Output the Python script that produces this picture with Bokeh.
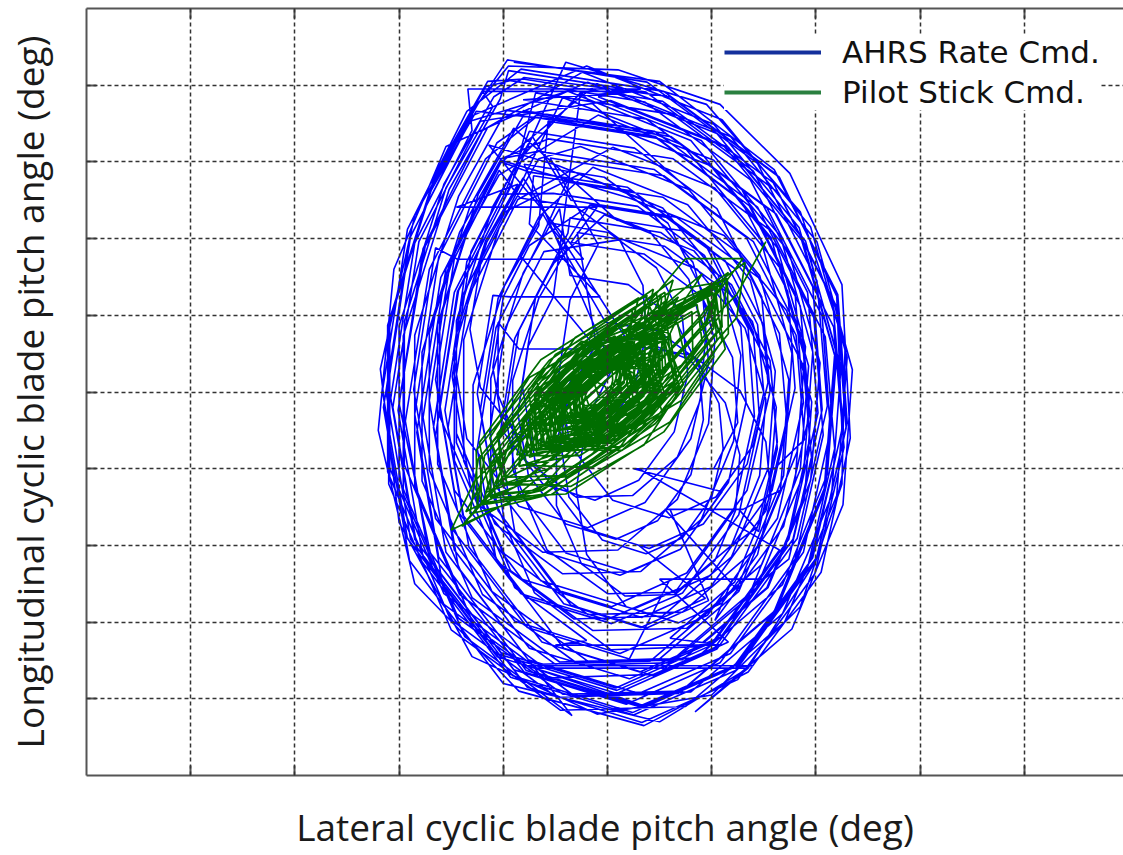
from bokeh.plotting import figure
from bokeh.models import (FixedTicker, LinearAxis, Legend, LegendItem, Range1d,
                          ColumnDataSource)
from bokeh.embed import file_html
from bokeh.resources import INLINE

# Grid positions (deg); tick labels are not shown on this chart
grid_ticks = [-4, -3, -2, -1, 0, 1, 2, 3, 4]

# AHRS rate command trajectory: (lateral, longitudinal) cyclic pitch, deg
ahrs_path = [
    (-0.9, 4.3), (0.5, 4.05), (1.6, 2.9), (2.2, 1.3), (2.3, -0.4), (2.0, -2.2), (1.35, -3.6), (0.5, -4.3), (-1.0, -3.8), (-1.9, -2.2), (-2.15, -0.2), (-1.9, 2.0), (-1.3, 3.6),
    (-0.2, 4.25), (1.1, 3.55), (1.95, 2.15), (2.3, 0.45), (2.2, -1.35), (1.7, -3.0), (0.75, -4.1), (-0.45, -4.15), (-1.5, -3.1), (-2.1, -1.2), (-2.1, 0.9), (-1.65, 2.85), (-1.15, 4.05),
    (-0.81, 4.08), (0.53, 3.79), (1.59, 2.73), (2.16, 1.20), (2.26, -0.43), (1.97, -2.16), (1.20, -3.60), (0.24, -4.18), (-0.91, -3.70), (-1.77, -2.16), (-2.01, -0.24), (-1.77, 1.87), (-1.20, 3.41),
    (-0.24, 4.17), (1.02, 3.49), (1.84, 2.14), (2.18, 0.49), (2.08, -1.26), (1.60, -2.86), (0.68, -3.93), (-0.49, -3.98), (-1.51, -2.96), (-2.09, -1.11), (-2.09, 0.92), (-1.65, 2.81), (-1.17, 3.98),
    (-0.93, 4.06), (0.36, 3.78), (1.37, 2.77), (1.92, 1.30), (2.02, -0.27), (1.74, -1.92), (1.00, -3.30), (0.08, -3.86), (-1.02, -3.40), (-1.85, -1.92), (-2.08, -0.08), (-1.85, 1.94), (-1.30, 3.41), (-1.34, 3.95), (0.32, 3.95),
    (-0.09, 3.85), (1.12, 3.20), (1.91, 1.90), (2.24, 0.32), (2.15, -1.36), (1.68, -2.89), (0.80, -3.91), (-0.32, -3.96), (-1.30, -2.98), (-1.85, -1.22), (-1.85, 0.74), (-1.43, 2.55), (-0.97, 3.67),
    (-0.67, 3.63), (0.56, 3.37), (1.53, 2.40), (2.06, 0.99), (2.14, -0.50), (1.88, -2.09), (1.18, -3.41), (0.30, -3.93), (-0.76, -3.49), (-1.55, -2.09), (-1.77, -0.33), (-1.55, 1.61), (-1.02, 3.02),
    (0.21, 2.53), (1.12, 2.04), (1.72, 1.06), (1.96, -0.13), (1.89, -1.40), (1.54, -2.55), (0.88, -3.32), (0.03, -3.36), (-0.70, -2.62), (-1.12, -1.29), (-1.12, 0.18), (-0.81, 1.55), (-0.46, 2.39),
    (-0.36, 1.52), (0.20, 1.40), (0.64, 0.96), (0.88, 0.32), (0.92, -0.36), (0.80, -1.08), (0.48, -1.68), (0.08, -1.92), (-0.40, -1.72), (-0.76, -1.08), (-0.86, -0.28), (-0.76, 0.60), (-0.52, 1.24),
    (-0.26, 3.90), (0.90, 3.28), (1.66, 2.03), (1.97, 0.52), (1.88, -1.08), (1.43, -2.55), (0.59, -3.53), (-0.48, -3.57), (-1.42, -2.64), (-1.95, -0.95), (-1.95, 0.92), (-1.55, 2.66), (-1.10, 3.72), (-1.20, 3.92), (0.30, 3.92),
    (-0.81, 3.81), (0.37, 3.56), (1.29, 2.64), (1.80, 1.29), (1.88, -0.14), (1.63, -1.65), (0.96, -2.91), (0.12, -3.41), (-0.89, -2.99), (-1.65, -1.65), (-1.86, 0.03), (-1.65, 1.88), (-1.44, 1.73), (-0.23, 1.73), (-1.14, 3.22),
    (-0.47, 2.95), (0.31, 2.53), (0.82, 1.69), (1.03, 0.67), (0.97, -0.41), (0.67, -1.40), (0.10, -2.06), (-0.62, -2.09), (-1.25, -1.46), (-1.61, -0.32), (-1.61, 0.94), (-1.34, 2.11), (-1.04, 2.83),
    (-0.09, 3.61), (1.02, 3.02), (1.74, 1.83), (2.04, 0.38), (1.95, -1.15), (1.53, -2.55), (0.72, -3.49), (-0.30, -3.53), (-1.20, -2.64), (-1.71, -1.02), (-1.71, 0.77), (-1.32, 2.42), (-0.90, 3.44),
    (0.09, 2.24), (0.73, 2.10), (1.22, 1.61), (1.49, 0.89), (1.54, 0.12), (1.40, -0.69), (1.04, -1.37), (0.59, -1.64), (0.05, -1.41), (-0.36, -0.69), (-0.47, 0.21), (-0.36, 1.20), (-0.09, 1.92),
    (-0.55, 3.05), (0.54, 2.82), (1.40, 1.96), (1.87, 0.71), (1.94, -0.61), (1.71, -2.02), (1.09, -3.19), (0.31, -3.65), (-0.63, -3.26), (-1.33, -2.02), (-1.53, -0.46), (-1.33, 1.26), (-0.86, 2.51),
    (0.05, 3.19), (1.03, 2.66), (1.66, 1.61), (1.93, 0.34), (1.85, -1.01), (1.48, -2.25), (0.76, -3.08), (-0.14, -3.11), (-0.93, -2.33), (-1.38, -0.90), (-1.38, 0.68), (-1.04, 2.14), (-0.66, 3.04),
    (-0.26, 3.20), (0.78, 2.64), (1.46, 1.52), (1.74, 0.16), (1.66, -1.28), (1.30, -1.53), (0.55, -1.53), (1.26, -2.60), (0.50, -3.48), (-0.46, -3.52), (-1.30, -2.68), (-1.78, -1.16), (-1.78, 0.52), (-1.42, 2.08), (-1.02, 3.04),
    (-0.67, 3.14), (0.45, 2.90), (1.33, 2.02), (1.81, 0.74), (1.89, -0.62), (1.60, -1.0), (0.30, -1.0), (1.65, -2.06), (1.01, -3.26), (0.21, -3.74), (-0.75, -3.34), (-1.47, -2.06), (-1.67, -0.46), (-1.47, 1.30), (-0.99, 2.58),
    (-0.75, 3.40), (0.26, 3.18), (1.05, 2.39), (1.48, 1.24), (1.56, 0.01), (1.34, -1.28), (0.76, -2.36), (0.04, -2.80), (-0.82, -2.44), (-1.47, -1.28), (-1.65, 0.16), (-1.47, 1.74), (-1.04, 2.89),
    (-0.84, 2.53), (-0.31, 2.42), (0.11, 2.00), (0.34, 1.39), (0.37, 0.75), (0.26, 0.06), (-0.04, -0.51), (-0.42, -0.73), (-0.88, -0.54), (-1.22, 0.06), (-1.32, 0.82), (-1.22, 1.66), (-0.99, 2.27),
    (-0.43, 3.84), (0.72, 3.22), (1.47, 1.99), (1.77, 0.50), (1.69, -1.09), (1.25, -2.54), (0.41, -3.51), (-0.65, -3.55), (-1.57, -2.63), (-2.10, -0.96), (-2.10, 0.89), (-1.70, 2.61), (-1.26, 3.66),
    (0.00, 3.48), (0.99, 2.95), (1.63, 1.88), (1.90, 0.59), (1.82, -0.78), (1.44, -2.03), (0.72, -2.87), (-0.19, -2.90), (-0.99, -2.11), (-1.45, -0.66), (-1.45, 0.93), (-1.10, 2.42), (-0.72, 3.33),
    (-0.35, 2.50), (0.66, 2.28), (1.45, 1.49), (1.88, 0.34), (1.96, -0.89), (1.74, -2.18), (1.50, -2.44), (0.50, -2.44), (1.16, -3.26), (0.44, -3.70), (-0.42, -3.34), (-1.07, -2.18), (-1.25, -0.74), (-1.07, 0.84), (-0.64, 1.99),
    (-0.39, 2.74), (0.53, 2.54), (1.26, 1.81), (1.65, 0.76), (1.72, -0.36), (1.52, -1.55), (0.99, -2.54), (0.33, -2.94), (-0.46, -2.61), (-1.05, -1.55), (-1.22, -0.23), (-1.05, 1.22), (-0.66, 2.28),
    (-0.14, 2.93), (0.77, 2.44), (1.37, 1.46), (1.61, 0.27), (1.54, -1.00), (1.19, -2.15), (0.53, -2.92), (-0.32, -2.96), (-1.05, -2.22), (-1.47, -0.89), (-1.47, 0.58), (-1.16, 1.95), (-0.81, 2.79),
    (0.22, 0.61), (0.81, 0.48), (1.27, 0.02), (1.52, -0.65), (1.57, -1.37), (1.44, -2.12), (1.10, -2.75), (0.68, -3.01), (0.18, -2.80), (-0.20, -2.12), (-0.30, -1.28), (-0.20, -0.36), (0.05, 0.31),
    (-0.80, 2.97), (-0.03, 2.80), (0.58, 2.20), (0.91, 1.32), (0.97, 0.38), (0.80, -0.61), (0.36, -1.44), (-0.19, -1.77), (-0.85, -1.49), (-1.35, -0.61), (-1.48, 0.49), (-1.35, 1.70), (-1.02, 2.58),
    (-0.52, 2.59), (0.29, 2.42), (0.93, 1.78), (1.28, 0.85), (1.33, -0.13), (1.16, -1.18), (0.70, -2.05), (0.12, -2.39), (-0.58, -2.10), (-1.10, -1.18), (-1.25, -0.02), (-1.10, 1.26), (-0.93, 1.24), (-0.07, 1.24), (-0.75, 2.19),
    (-0.71, 2.82), (0.24, 2.62), (0.99, 1.87), (1.40, 0.78), (1.46, -0.37), (1.26, -1.60), (0.72, -2.62), (0.04, -3.02), (-0.78, -2.68), (-1.39, -1.60), (-1.56, -0.24), (-1.39, 1.26), (-0.98, 2.35),
    (-0.27, 2.84), (0.53, 2.40), (1.06, 1.53), (1.28, 0.48), (1.21, -0.64), (0.90, -1.66), (0.32, -2.34), (-0.43, -2.37), (-1.08, -1.72), (-1.45, -0.54), (-1.45, 0.76), (-1.17, 1.97), (-0.86, 2.71), (-1.45, 2.41), (-0.10, 2.41),
    (-0.35, 1.95), (0.35, 1.80), (0.90, 1.25), (1.20, 0.45), (1.25, -0.40), (1.02, -1.0), (0.25, -1.0), (1.10, -1.30), (0.70, -2.05), (0.20, -2.35), (-0.40, -2.10), (-0.85, -1.30), (-0.98, -0.30), (-0.85, 0.80), (-0.55, 1.60),
    (-0.17, 2.44), (0.56, 2.28), (1.13, 1.71), (1.44, 0.88), (1.50, -0.01), (1.34, -0.94), (0.92, -1.72), (0.40, -2.04), (-0.22, -1.78), (-0.69, -0.94), (-0.82, 0.10), (-0.69, 1.24), (-0.38, 2.07),
    (-0.36, 2.27), (0.51, 2.08), (1.19, 1.40), (1.56, 0.41), (1.63, -0.65), (1.44, -1.76), (1.20, -2.0), (0.30, -2.0), (0.94, -2.69), (0.32, -3.07), (-0.42, -2.76), (-0.98, -1.76), (-1.13, -0.52), (-0.98, 0.84), (-0.61, 1.83),
    (0.14, 1.99), (0.86, 1.60), (1.32, 0.83), (1.52, -0.10), (1.46, -1.09), (1.19, -2.00), (0.66, -2.61), (0.00, -2.63), (-0.58, -2.06), (-0.91, -1.01), (-0.91, 0.15), (-0.66, 1.22), (-0.38, 1.88),
    (-0.58, 2.21), (0.01, 2.08), (0.47, 1.62), (0.72, 0.95), (0.77, 0.23), (0.64, -0.52), (0.30, -1.15), (-0.12, -1.41), (-0.62, -1.20), (-1.00, -0.52), (-1.10, 0.32), (-1.00, 1.24), (-0.75, 1.91),
    (-0.19, 2.41), (0.40, 2.10), (0.78, 1.47), (0.94, 0.70), (0.89, -0.11), (0.67, -0.85), (0.24, -1.35), (-0.30, -1.37), (-0.78, -0.90), (-1.05, -0.04), (-1.05, 0.91), (-0.85, 0.56), (-0.10, 0.56), (-0.84, 1.78), (-0.62, 2.32),
    (-0.02, 0.91), (0.48, 0.80), (0.86, 0.42), (1.07, -0.15), (1.11, -0.74), (1.00, -1.37), (0.72, -1.90), (0.37, -2.11), (-0.05, -1.93), (-0.37, -1.37), (-0.45, -0.67), (-0.37, 0.10), (-0.16, 0.66),
    (0.27, 0.70), (0.79, 0.42), (1.13, -0.14), (1.27, -0.82), (1.23, -1.54), (1.03, -2.20), (0.65, -2.64), (0.17, -2.66), (-0.25, -2.24), (-0.49, -1.48), (-0.49, -0.64), (-0.31, 0.14), (-0.11, 0.62),
    (-0.29, 2.08), (0.55, 1.90), (1.21, 1.24), (1.57, 0.28), (1.63, -0.74), (1.45, -1.82), (1.26, -1.53), (0.60, -1.53), (0.97, -2.72), (0.37, -3.08), (-0.35, -2.78), (-0.89, -1.82), (-1.04, -0.62), (-0.89, 0.70), (-0.53, 1.66),
    (-0.03, 2.31), (0.83, 1.84), (1.39, 0.92), (1.62, -0.20), (1.55, -1.39), (1.22, -2.48), (0.60, -3.21), (1.10, -3.30), (-0.50, -3.30), (-0.20, -3.24), (-0.89, -2.55), (-1.29, -1.29), (-1.29, 0.09), (-0.99, 1.38), (-0.66, 2.17),
    (-0.57, 3.53), (0.47, 3.31), (1.28, 2.50), (1.73, 1.31), (1.80, 0.05), (1.58, -1.28), (0.99, -2.39), (0.25, -2.83), (-0.64, -2.46), (-1.31, -1.28), (-1.49, 0.20), (-1.31, 1.83), (-0.86, 3.01),
    (-0.26, 3.90), (0.78, 2.64), (1.46, 1.52), (1.74, 0.16), (1.66, -1.28), (1.26, -2.60), (0.50, -3.48), (-0.46, -3.52), (-1.30, -2.68), (-1.78, -1.16), (-1.78, 0.52), (-1.42, 2.08), (-1.02, 3.04),
    (-0.57, 3.30), (0.63, 3.04), (1.58, 2.09), (2.09, 0.72), (2.18, -0.74), (1.92, -2.29), (1.23, -3.58), (1.40, -3.57), (-0.77, -3.57), (0.37, -4.10), (-0.66, -3.67), (-1.43, -2.29), (-1.65, -0.57), (-1.43, 1.32), (-0.92, 2.70),
    (-0.69, 3.90), (0.62, 3.62), (1.64, 2.60), (2.20, 1.11), (2.29, -0.47), (2.01, -2.15), (1.27, -3.54), (0.34, -4.10), (-0.78, -3.63), (-1.62, -2.15), (-1.85, -0.29), (-1.62, 1.76), (-1.06, 3.25),
    (-0.68, 3.61), (0.61, 3.33), (1.62, 2.32), (2.17, 0.85), (2.27, -0.72), (1.99, -2.37), (1.25, -3.75), (0.33, -4.31), (-0.77, -3.85), (-1.60, -2.37), (-1.83, -0.53), (-1.60, 1.49), (-1.05, 2.96),
    (-0.10, 4.02), (1.18, 3.33), (2.01, 1.96), (2.35, 0.29), (2.26, -1.47), (1.77, -3.09), (0.84, -4.17), (1.35, -3.60), (-0.70, -3.60), (-0.34, -4.22), (-1.37, -3.19), (-1.96, -1.33), (-1.96, 0.73), (-1.52, 2.64), (-1.03, 3.82),
    (-0.95, 4.19), (0.37, 3.91), (1.40, 2.88), (1.97, 1.37), (2.06, -0.23), (1.78, -1.92), (1.03, -3.33), (0.09, -3.89), (-1.04, -3.42), (-1.89, -1.92), (-2.12, -0.04), (-1.89, 2.03), (-1.32, 3.53),
    (-0.38, 3.92), (0.80, 3.28), (1.57, 2.01), (1.89, 0.46), (1.80, -1.18), (1.35, -2.68), (0.48, -3.68), (-0.61, -3.73), (-1.57, -2.77), (-2.11, -1.04), (-2.11, 0.87), (-1.70, 2.64), (-1.25, 3.74),
    (-0.96, 4.33), (0.38, 4.04), (1.44, 2.98), (2.01, 1.45), (2.11, -0.18), (1.82, -1.91), (1.05, -3.35), (0.09, -3.93), (-1.06, -3.45), (-1.92, -1.91), (-2.16, 0.01), (-1.92, 2.12), (-1.35, 3.66),
    (-0.83, 4.21), (0.54, 3.92), (1.62, 2.84), (2.21, 1.27), (2.30, -0.39), (2.01, -2.16), (1.23, -3.63), (0.25, -4.21), (-0.93, -3.72), (-1.81, -2.16), (-2.06, -0.20), (-1.81, 1.96), (-1.22, 3.53),
    (0.03, 3.80), (1.16, 3.19), (1.90, 1.97), (2.20, 0.49), (2.11, -1.07), (1.68, -2.51), (0.85, -3.47), (-0.19, -3.51), (-1.11, -2.60), (-1.63, -0.94), (-1.63, 0.88), (-1.24, 2.58), (-0.80, 3.62),
    (-0.81, 3.67), (0.45, 3.40), (1.44, 2.41), (1.98, 0.97), (2.07, -0.56), (1.80, -2.18), (1.08, -3.53), (0.18, -4.07), (-0.90, -3.62), (-1.71, -2.18), (-1.94, -0.38), (-1.71, 1.60), (-1.17, 3.04),
    (-0.69, 3.58), (0.46, 3.33), (1.36, 2.43), (1.85, 1.12), (1.94, -0.28), (1.69, -1.75), (1.03, -2.98), (1.2, -2.44), (0.6, -2.44), (0.21, -3.48), (-0.77, -3.07), (-1.51, -1.75), (-1.71, -0.11), (-1.51, 1.69), (-1.02, 3.00),
    (-0.76, 2.87), (0.19, 2.67), (0.94, 1.92), (1.35, 0.83), (1.41, -0.32), (1.21, -1.55), (0.67, -2.57), (-0.01, -2.97), (-0.83, -2.63), (-1.44, -1.55), (-1.61, -0.19), (-1.44, 1.31), (-1.03, 2.40),
    (-0.4, 4.3), (0.95, 3.75), (1.85, 2.35), (2.28, 0.6), (2.25, -1.2), (1.85, -2.8), (1.0, -3.95), (-0.1, -4.2), (-1.3, -3.45), (-2.0, -1.7), (-2.18, 0.3), (-1.85, 2.3), (-1.25, 3.75),
    (-0.95, 4.25), (0.1, 4.2), (1.08, 3.75), (1.75, 2.85), (2.25, 1.4), (2.33, -0.6), (2.05, -2.35), (1.35, -3.65), (0.35, -4.35), (-0.85, -3.9), (-1.85, -2.5), (-2.2, -0.5), (-2.05, 1.6), (-1.55, 3.2),
    (-0.19, 4.04), (1.05, 3.37), (1.85, 2.04), (2.19, 0.43), (2.09, -1.28), (1.62, -2.85), (0.71, -3.90), (-0.43, -3.94), (-1.43, -2.95), (-2.0, -1.14), (-2.0, 0.86), (-1.57, 2.71), (-1.09, 3.85),
    (-0.8, 4.1), (0.6, 3.85), (1.65, 2.8), (2.2, 1.25), (2.25, -0.5), (1.95, -2.2), (1.25, -3.55), (0.3, -4.1), (-0.8, -3.65), (-1.7, -2.1), (-2.0, -0.15), (-1.75, 1.9), (-1.15, 3.45),
]

# Pilot stick command trajectory: (lateral, longitudinal) cyclic pitch, deg
stick_path = [
    (1.52, 1.96), (1.24, 1.27), (0.21, -0.14), (-0.95, -1.44), (-1.50, -1.80), (-1.28, -1.17), (-0.25, 0.24), (0.91, 1.54),
    (0.40, 0.52), (0.46, -0.03), (-0.05, -0.66), (-0.60, -0.72), (-0.66, -0.17), (-0.15, 0.46),
    (1.02, 1.28), (1.13, 0.56), (0.54, -0.52), (-0.40, -1.33), (-1.12, -1.38), (-1.23, -0.66), (-0.64, 0.42), (0.30, 1.23),
    (0.08, 0.17), (0.14, -0.06), (-0.04, -0.28), (-0.28, -0.27), (-0.34, -0.04), (-0.16, 0.18),
    (0.34, 0.45), (0.49, -0.13), (0.05, -0.67), (-0.54, -0.65), (-0.69, -0.07), (-0.25, 0.47),
    (1.15, 1.48), (1.16, 0.76), (0.46, -0.41), (-0.54, -1.34), (-1.25, -1.48), (-1.26, -0.76), (-0.56, 0.41), (0.44, 1.34),
    (0.29, 0.45), (0.22, 0.05), (-0.22, -0.49), (-0.59, -0.65), (-0.52, -0.25), (-0.08, 0.29),
    (0.87, 1.06), (1.02, 0.46), (0.60, -0.39), (-0.14, -0.98), (-0.77, -0.96), (-0.92, -0.36), (-0.50, 0.49), (0.24, 1.08),
    (0.18, 0.27), (0.24, 0.04), (0.06, -0.18), (-0.18, -0.17), (-0.24, 0.06), (-0.06, 0.28),
    (1.32, 1.69), (1.24, 0.97), (0.43, -0.30), (-0.63, -1.36), (-1.32, -1.59), (-1.24, -0.87), (-0.43, 0.40), (0.63, 1.46),
    (0.40, 0.44), (0.52, -0.02), (0.17, -0.46), (-0.30, -0.44), (-0.42, 0.02), (-0.07, 0.46),
    (0.60, 0.73), (0.67, 0.13), (0.11, -0.57), (-0.50, -0.63), (-0.57, -0.03), (-0.01, 0.67),
    (0.56, 0.69), (0.73, 0.10), (0.35, -0.69), (-0.35, -1.23), (-0.96, -1.19), (-1.13, -0.60), (-0.75, 0.19), (-0.05, 0.73),
    (1.15, 1.48), (1.08, 0.83), (0.34, -0.32), (-0.62, -1.28), (-1.25, -1.48), (-1.18, -0.83), (-0.44, 0.32), (0.52, 1.28),
    (0.20, 0.30), (0.33, -0.23), (-0.06, -0.71), (-0.60, -0.70), (-0.73, -0.17), (-0.34, 0.31),
    (-0.02, 0.07), (0.04, -0.16), (-0.14, -0.38), (-0.38, -0.37), (-0.44, -0.14), (-0.26, 0.08),
    (0.48, 0.71), (0.39, 0.23), (-0.13, -0.42), (-0.58, -0.61), (-0.49, -0.13), (0.03, 0.52),
    (1.01, 1.30), (1.05, 0.67), (0.47, -0.33), (-0.38, -1.10), (-1.01, -1.20), (-1.05, -0.57), (-0.47, 0.43), (0.38, 1.20),
    (0.54, 0.65), (0.69, 0.07), (0.25, -0.47), (-0.34, -0.45), (-0.49, 0.13), (-0.05, 0.67),
    (0.47, 0.77), (0.50, 0.15), (-0.07, -0.55), (-0.67, -0.67), (-0.70, -0.05), (-0.13, 0.65),
    (0.96, 1.24), (1.10, 0.67), (0.71, -0.11), (0.02, -0.66), (-0.56, -0.64), (-0.70, -0.07), (-0.31, 0.71), (0.38, 1.26),
    (0.20, 0.36), (0.25, -0.14), (-0.20, -0.70), (-0.70, -0.76), (-0.75, -0.26), (-0.30, 0.30),
    (0.28, 0.37), (0.34, 0.14), (0.16, -0.08), (-0.08, -0.07), (-0.14, 0.16), (0.04, 0.38),
    (0.34, 0.50), (0.36, 0.03), (-0.08, -0.51), (-0.54, -0.60), (-0.56, -0.13), (-0.12, 0.41),
    (0.21, 0.28), (0.30, -0.07), (0.04, -0.39), (-0.31, -0.38), (-0.40, -0.03), (-0.14, 0.29),
    (0.81, 1.05), (0.82, 0.44), (0.23, -0.55), (-0.61, -1.33), (-1.21, -1.45), (-1.22, -0.84), (-0.63, 0.15), (0.21, 0.93),
    (0.60, 0.76), (0.65, 0.26), (0.20, -0.30), (-0.30, -0.36), (-0.35, 0.14), (0.10, 0.70),
    (0.40, 0.25), (0.53, -0.28), (0.14, -0.76), (-0.40, -0.75), (-0.53, -0.22), (-0.14, 0.26),
    (0.15, 0.30), (0.08, -0.06), (-0.31, -0.55), (-0.65, -0.70), (-0.58, -0.34), (-0.19, 0.15),
    (0.67, 0.91), (0.76, 0.35), (0.32, -0.48), (-0.40, -1.09), (-0.97, -1.11), (-1.06, -0.55), (-0.62, 0.28), (0.10, 0.89),
    (0.33, 0.51), (0.36, -0.01), (-0.13, -0.61), (-0.63, -0.71), (-0.66, -0.19), (-0.17, 0.41),
    (0.25, 0.60), (0.38, 0.07), (-0.01, -0.41), (-0.55, -0.40), (-0.68, 0.13), (-0.29, 0.61),
    (0.48, 0.71), (0.41, 0.27), (-0.08, -0.33), (-0.48, -0.51), (-0.41, -0.07), (0.08, 0.53),
    (0.30, 0.38), (0.34, 0.00), (-0.01, -0.44), (-0.40, -0.48), (-0.44, -0.10), (-0.09, 0.34),
    (0.35, 0.54), (0.37, 0.16), (0.02, -0.27), (-0.35, -0.34), (-0.37, 0.04), (-0.02, 0.47),
    (1.08, 1.39), (1.10, 0.85), (0.59, -0.02), (-0.15, -0.70), (-0.68, -0.79), (-0.70, -0.25), (-0.19, 0.62), (0.55, 1.30),
    (0.60, 0.47), (0.66, -0.08), (0.15, -0.71), (-0.40, -0.77), (-0.46, -0.22), (0.05, 0.41),
    (0.46, 0.33), (0.56, -0.07), (0.26, -0.45), (-0.16, -0.43), (-0.26, -0.03), (0.04, 0.35),
    (0.15, 0.44), (0.10, 0.12), (-0.26, -0.31), (-0.55, -0.44), (-0.50, -0.12), (-0.14, 0.31),
    (1.16, 1.56), (0.93, 1.00), (0.10, -0.16), (-0.86, -1.22), (-1.36, -1.56), (-1.13, -1.00), (-0.30, 0.16), (0.66, 1.22),
    (0.30, 0.72), (0.36, 0.17), (-0.15, -0.46), (-0.70, -0.52), (-0.76, 0.03), (-0.25, 0.66),
    (0.33, 0.51), (0.35, -0.05), (-0.18, -0.70), (-0.73, -0.81), (-0.75, -0.25), (-0.22, 0.40),
    (0.86, 1.14), (0.91, 0.64), (0.49, -0.12), (-0.16, -0.69), (-0.66, -0.74), (-0.71, -0.24), (-0.29, 0.52), (0.36, 1.09),
    (0.36, 0.39), (0.37, 0.06), (0.06, -0.32), (-0.26, -0.39), (-0.27, -0.06), (0.04, 0.32),
    (0.34, 0.30), (0.27, -0.10), (-0.17, -0.64), (-0.54, -0.80), (-0.47, -0.40), (-0.03, 0.14),
    (0.53, 0.73), (0.62, 0.28), (0.29, -0.37), (-0.27, -0.83), (-0.73, -0.83), (-0.82, -0.38), (-0.49, 0.27), (0.07, 0.73),
    (0.25, 0.31), (0.28, 0.04), (0.03, -0.28), (-0.25, -0.31), (-0.28, -0.04), (-0.03, 0.28),
    (1.05, 1.37), (1.02, 0.83), (0.45, -0.08), (-0.32, -0.83), (-0.85, -0.97), (-0.82, -0.43), (-0.25, 0.48), (0.52, 1.23),
    (0.45, 0.45), (0.38, 0.09), (-0.01, -0.40), (-0.35, -0.55), (-0.28, -0.19), (0.11, 0.30),
    (0.39, 0.51), (0.50, 0.01), (0.13, -0.70), (-0.49, -1.21), (-0.99, -1.21), (-1.10, -0.71), (-0.73, 0.00), (-0.11, 0.51),
    (0.15, 0.54), (0.17, 0.16), (-0.18, -0.27), (-0.55, -0.34), (-0.57, 0.04), (-0.22, 0.47),
    (0.25, 0.25), (0.30, -0.19), (-0.11, -0.70), (-0.55, -0.75), (-0.60, -0.31), (-0.19, 0.20),
    (0.50, 0.50), (0.51, 0.07), (0.12, -0.41), (-0.30, -0.50), (-0.31, -0.07), (0.08, 0.41),
    (0.18, 0.23), (0.22, -0.18), (-0.14, -0.80), (-0.68, -1.28), (-1.08, -1.33), (-1.12, -0.93), (-0.76, -0.30), (-0.23, 0.18),
    (0.27, 0.62), (0.18, 0.10), (-0.39, -0.61), (-0.87, -0.82), (-0.78, -0.30), (-0.21, 0.41),
    (0.94, 1.31), (1.02, 0.84), (0.64, 0.14), (0.04, -0.38), (-0.44, -0.41), (-0.52, 0.07), (-0.14, 0.77), (0.47, 1.28),
    (0.54, 0.70), (0.47, 0.30), (0.03, -0.24), (-0.34, -0.40), (-0.27, 0.00), (0.17, 0.54),
    (0.40, 0.35), (0.41, -0.08), (0.02, -0.56), (-0.40, -0.65), (-0.41, -0.22), (-0.02, 0.26),
    (0.60, 0.50), (0.65, 0.06), (0.24, -0.45), (-0.20, -0.50), (-0.25, -0.06), (0.16, 0.45),
    (1.05, 1.37), (0.94, 0.90), (0.33, 0.01), (-0.41, -0.77), (-0.85, -0.97), (-0.74, -0.50), (-0.13, 0.39), (0.61, 1.17),
    (0.15, 0.55), (0.16, 0.12), (-0.23, -0.36), (-0.65, -0.45), (-0.66, -0.02), (-0.27, 0.46),
    (1.03, 1.38), (1.07, 0.98), (0.71, 0.35), (0.18, -0.13), (-0.23, -0.18), (-0.27, 0.23), (0.09, 0.85), (0.63, 1.33),
    (1.07, 1.43), (0.95, 0.88), (0.27, -0.12), (-0.57, -1.00), (-1.07, -1.23), (-0.95, -0.68), (-0.27, 0.32), (0.57, 1.20),
    (0.16, 0.34), (0.11, 0.06), (-0.20, -0.32), (-0.46, -0.44), (-0.41, -0.16), (-0.10, 0.22),
    (0.52, 0.66), (0.53, 0.17), (0.05, -0.63), (-0.63, -1.27), (-1.12, -1.36), (-1.13, -0.87), (-0.65, -0.07), (0.03, 0.57),
    (0.12, 0.28), (0.13, 0.04), (-0.09, -0.23), (-0.32, -0.28), (-0.33, -0.04), (-0.11, 0.23),
    (0.46, 0.48), (0.38, 0.02), (-0.13, -0.60), (-0.56, -0.78), (-0.48, -0.32), (0.03, 0.30),
    (0.39, 0.35), (0.41, -0.12), (-0.03, -0.66), (-0.49, -0.75), (-0.51, -0.28), (-0.07, 0.26),
    (0.24, 0.65), (0.17, 0.25), (-0.27, -0.29), (-0.64, -0.45), (-0.57, -0.05), (-0.13, 0.49),
    (0.53, 0.81), (0.56, 0.29), (0.07, -0.31), (-0.43, -0.41), (-0.46, 0.11), (0.03, 0.71),
    (0.55, 0.75), (0.48, 0.39), (0.09, -0.10), (-0.25, -0.25), (-0.18, 0.11), (0.21, 0.60),
    (0.42, 0.65), (0.48, 0.27), (0.16, -0.30), (-0.33, -0.73), (-0.72, -0.75), (-0.78, -0.37), (-0.46, 0.20), (0.03, 0.63),
    (0.05, 0.15), (-0.02, -0.21), (-0.41, -0.70), (-0.75, -0.85), (-0.68, -0.49), (-0.29, 0.00),
    (0.11, 0.33), (0.13, 0.05), (-0.14, -0.28), (-0.41, -0.33), (-0.43, -0.05), (-0.16, 0.28),
    (0.47, 0.71), (0.37, 0.31), (-0.16, -0.46), (-0.79, -1.13), (-1.17, -1.31), (-1.07, -0.91), (-0.55, -0.14), (0.09, 0.53),
    (0.55, 0.67), (0.60, 0.34), (0.32, -0.17), (-0.11, -0.55), (-0.45, -0.57), (-0.50, -0.24), (-0.22, 0.27), (0.21, 0.65),
    (0.68, 0.99), (0.54, 0.59), (-0.04, -0.23), (-0.72, -0.96), (-1.08, -1.19), (-0.94, -0.79), (-0.36, 0.03), (0.32, 0.76),
    (1.06, 1.39), (0.99, 0.99), (0.52, 0.27), (-0.08, -0.34), (-0.46, -0.49), (-0.39, -0.09), (0.08, 0.63), (0.68, 1.24),
    (0.48, 0.73), (0.46, 0.37), (0.08, -0.24), (-0.43, -0.74), (-0.78, -0.83), (-0.76, -0.47), (-0.38, 0.14), (0.13, 0.64),
    (0.08, 0.18), (0.01, -0.14), (-0.39, -0.73), (-0.89, -1.24), (-1.18, -1.38), (-1.11, -1.07), (-0.71, -0.47), (-0.21, 0.04),
    (-1.40, -1.75), (0.75, 1.74), (1.30, 1.74), (0.90, 1.00), (-0.60, -1.20), (-1.40, -1.75),
]

ahrs_lat = [pt[0] for pt in ahrs_path]
ahrs_lon = [pt[1] for pt in ahrs_path]
stick_lat = [pt[0] for pt in stick_path]
stick_lon = [pt[1] for pt in stick_path]

TITLE_FONT = "Open Sans"
TEXT_COLOR = "#1a1a1a"
AXIS_COLOR = "#555555"

p = figure(
    width=1123, height=855,
    x_range=Range1d(-5, 4.952), y_range=Range1d(-5, 5),
    output_backend="svg", toolbar_location=None,
    min_border_left=86, min_border_right=0, min_border_top=8, min_border_bottom=80,
    x_axis_label="Lateral cyclic blade pitch angle (deg)",
    y_axis_label="Longitudinal cyclic blade pitch angle (deg)",
)
p.outline_line_color = None
p.background_fill_color = "white"
# range far from the data, used only by the legend key strokes
p.extra_x_ranges = {"legend_key": Range1d(100, 101)}

bottom_axis = p.below[0]
left_axis = p.left[0]
top_axis = LinearAxis()
p.add_layout(top_axis, "above")

for ax in (bottom_axis, left_axis, top_axis):
    ax.ticker = FixedTicker(ticks=grid_ticks)
    ax.major_tick_in = 10
    ax.major_tick_out = 0
    ax.minor_tick_in = 0
    ax.minor_tick_out = 0
    ax.major_label_text_font_size = "0px"
    ax.major_label_standoff = 0
    ax.axis_line_color = AXIS_COLOR
    ax.axis_line_width = 2
    ax.major_tick_line_color = AXIS_COLOR
    ax.major_tick_line_width = 2

for ax, size, standoff in ((bottom_axis, "37px", 25), (left_axis, "37px", 32)):
    ax.axis_label_text_font = TITLE_FONT
    ax.axis_label_text_font_size = size
    ax.axis_label_text_font_style = "normal"
    ax.axis_label_text_color = TEXT_COLOR
    ax.axis_label_standoff = standoff

for g in (p.xgrid[0], p.ygrid[0]):
    g.ticker = FixedTicker(ticks=grid_ticks)
    g.grid_line_color = "#333333"
    g.grid_line_dash = "4 3"
    g.grid_line_width = 1.5
    g.level = "annotation"

ahrs_src = ColumnDataSource(dict(lat=ahrs_lat, lon=ahrs_lon))
stick_src = ColumnDataSource(dict(lat=stick_lat, lon=stick_lon))

p.line("lat", "lon", source=ahrs_src, line_color="#0000ff", line_width=1.6)
p.line("lat", "lon", source=stick_src, line_color="#006e00", line_width=1.7)

# legend keys: same series on the off-screen range, heavier strokes
key_ahrs = p.line("lat", "lon", source=ahrs_src, x_range_name="legend_key",
                  line_color="#14309c", line_width=4)
key_stick = p.line("lat", "lon", source=stick_src, x_range_name="legend_key",
                   line_color="#2a8040", line_width=4)

legend = Legend(
    items=[
        LegendItem(label="AHRS Rate Cmd.", renderers=[key_ahrs]),
        LegendItem(label="Pilot Stick Cmd.", renderers=[key_stick]),
    ],
    location=(638, 665),
    border_line_color=None,
    background_fill_color="white",
    background_fill_alpha=1.0,
    glyph_width=97, glyph_height=36, label_height=36,
    label_standoff=21, spacing=4, padding=14, margin=0,
    label_text_font="DejaVu Sans", label_text_font_size="31px",
    label_text_color="#111111",
)
p.add_layout(legend)

open("out.html", "w").write(file_html(p, INLINE))
